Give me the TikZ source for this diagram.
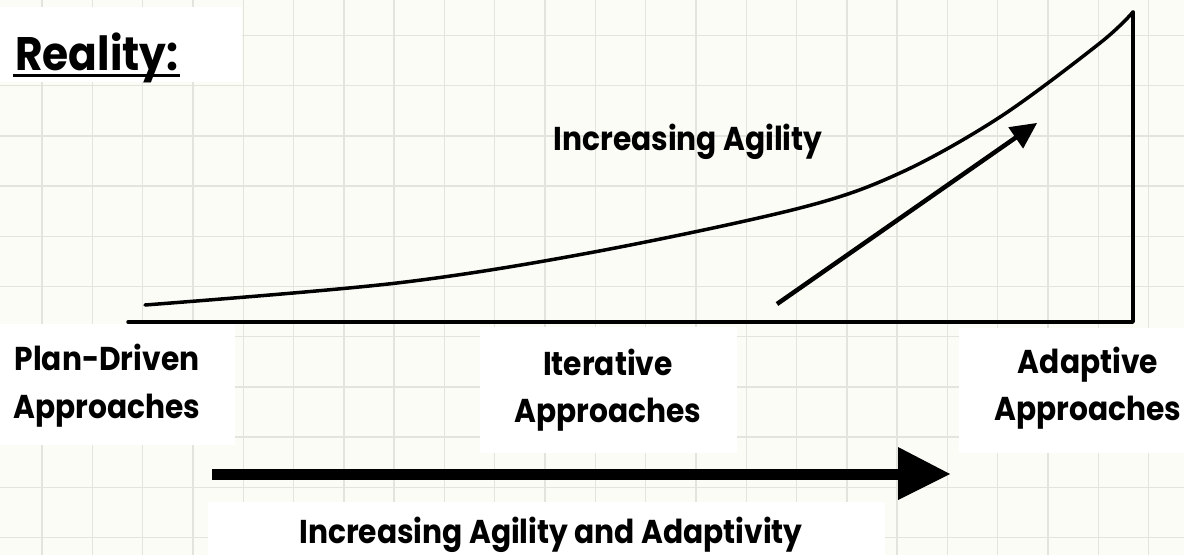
\documentclass[tikz,border=0pt]{standalone}
\usepackage{fontspec}
\setmainfont{Poppins}[FakeStretch=0.9]
\definecolor{bgc}{HTML}{FCFCF7}
\definecolor{gridc}{HTML}{E4E4DE}
\begin{document}
\begin{tikzpicture}[x=1pt,y=-1pt,
  lbl/.style={inner sep=0pt, anchor=base, font=\bfseries\fontsize{33}{40}\selectfont},
  gridline/.style={draw=gridc, line width=1.4pt},
  ink/.style={line width=3.5pt, line cap=round, line join=round}]
\useasboundingbox (0,0) rectangle (1184,555);
\fill[bgc] (0,0) rectangle (1184,555);
\foreach \k in {0,...,22} \draw[gridline] ({42+50.3*\k},0) -- ({42+50.3*\k},555);
\foreach \k in {0,...,10} \draw[gridline] (0,{35.5+50.2*\k}) -- (1184,{35.5+50.2*\k});
% white patches
\fill[white] (0,7) rectangle (242,82);
\fill[white] (0,324) rectangle (235,445);
\fill[white] (480,327) rectangle (737,453);
\fill[white] (959,328) rectangle (1184,453);
\fill[white] (208,502) rectangle (885,555);
% axes and curve
\draw[ink] (128,322) -- (1133,322) -- (1133,12);
\draw[ink] plot[smooth, tension=0.55] coordinates {(145,305) (397,283) (594,252) (800,208) (900,173) (1000,117) (1100,43) (1133,12)};
% diagonal arrow
\draw[line width=4.5pt] (777,304) -- (1018,136);
\fill (1037,123) -- (1023.1,148.6) -- (1008.3,127.2) -- cycle;
% bottom arrow
\fill (212,468.5) rectangle (899,479.5);
\fill (898,447) -- (950,474) -- (898,500) -- cycle;
% texts
\node[lbl, anchor=base west, font=\bfseries\fontsize{47}{56}\selectfont] (reality) at (15,70) {Reality:};
\draw[line width=3pt] (13,75.5) -- (180,75.5);
\node[lbl] (agil) at (688,150) {Increasing Agility};
\node[lbl] (pd1) at (107,370) {Plan-Driven};
\node[lbl] (pd2) at (107,418) {Approaches};
\node[lbl] (it1) at (608,375) {Iterative};
\node[lbl] (it2) at (608,422) {Approaches};
\node[lbl] (ad1) at (1088,373) {Adaptive};
\node[lbl] (ad2) at (1088,420) {Approaches};
\node[lbl] (bot) at (551,543) {Increasing Agility and Adaptivity};
\end{tikzpicture}
\end{document}
